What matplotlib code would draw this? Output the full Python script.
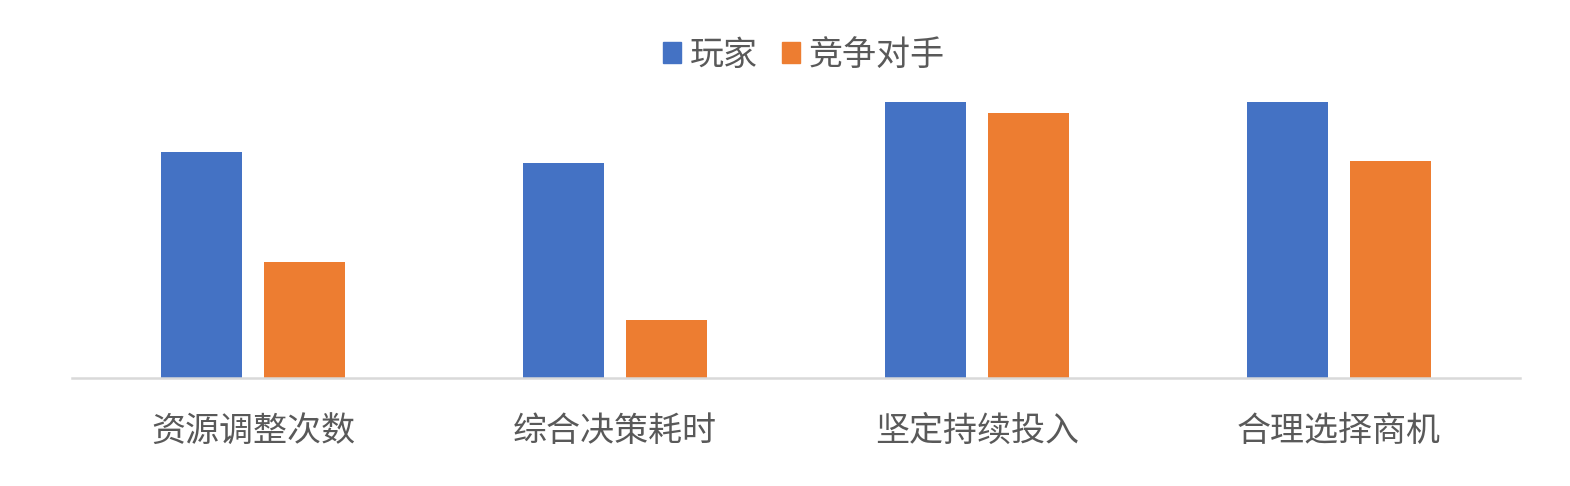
import numpy as np
import matplotlib
matplotlib.use('Agg')
import matplotlib.pyplot as plt
from matplotlib.patches import Patch

plt.rcParams['font.family'] = ['Noto Sans CJK SC', 'DejaVu Sans']

categories = ['资源调整次数', '综合决策耗时', '坚定持续投入', '合理选择商机']
player = [226, 215, 276, 276]
rival = [116, 58, 265, 217]
series_names = ['玩家', '竞争对手']
colors = ['#4472C4', '#ED7D31']

fig = plt.figure(figsize=(15.7, 4.86), dpi=100)
ax = fig.add_axes([72/1570, 108/486, 1448/1570, 300/486])

x = np.arange(len(categories))
w = 0.224
off = 0.142
ax.bar(x - off, player, w, color=colors[0], zorder=2)
ax.bar(x + off, rival, w, color=colors[1], zorder=2)

ax.set_xlim(-0.5, 3.5)
ax.set_ylim(0, 300)
ax.set_yticks([])
for s in ['top', 'right', 'left']:
    ax.spines[s].set_visible(False)
ax.spines['bottom'].set_color('#d9d9d9')
ax.spines['bottom'].set_linewidth(1.8)
ax.set_xticks(x)
ax.set_xticklabels(categories, fontsize=24.5, color='#595959')
ax.tick_params(axis='x', length=0, pad=26)

handles = [Patch(color=c, label=n) for c, n in zip(colors, series_names)]
leg = fig.legend(handles=handles, loc='center', bbox_to_anchor=(0.512, 1 - 55/486),
                 ncol=2, frameon=False, fontsize=24.5, handlelength=0.55, handleheight=0.55,
                 handletextpad=0.25, columnspacing=0.7)
for t in leg.get_texts():
    t.set_color('#595959')

fig.savefig('out.png', dpi=100)
